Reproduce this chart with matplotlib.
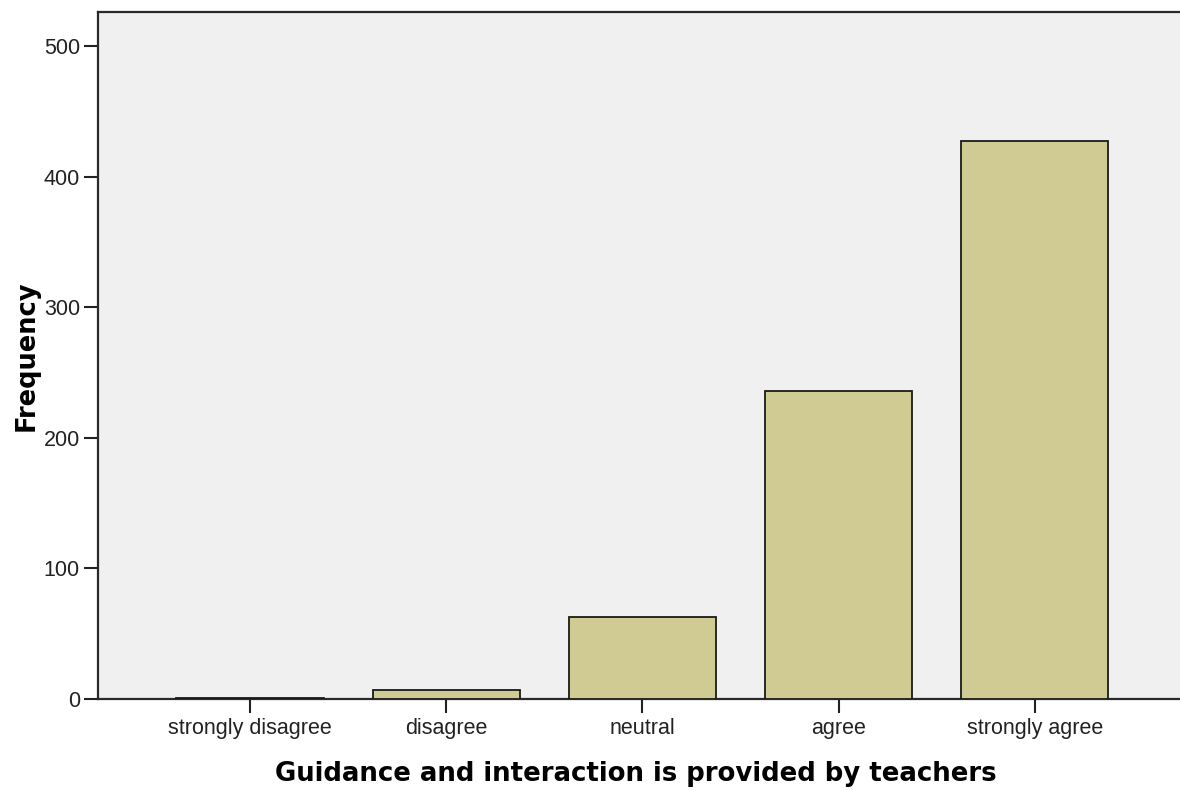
#!/usr/bin/env python3
"""SPSS-style frequency bar chart: guidance and interaction by teachers."""
import matplotlib
matplotlib.use("Agg")
import matplotlib.pyplot as plt
import numpy as np

CATEGORIES = ["strongly disagree", "disagree", "neutral", "agree", "strongly agree"]
FREQUENCY = [1, 7, 63, 236, 427]
Y_TICKS = [0, 100, 200, 300, 400, 500]

BAR_COLOR = "#d0cb92"
BG_COLOR = "#eff0ef"

plt.rcParams["font.family"] = ["Liberation Sans", "DejaVu Sans"]

fig = plt.figure(figsize=(11.8, 7.91), dpi=100)
ax = fig.add_axes([98 / 1180, 92 / 791, 1 - 98 / 1180 + 0.01, 687 / 791])
ax.set_facecolor(BG_COLOR)

x = np.arange(len(CATEGORIES))
ax.bar(x, FREQUENCY, width=0.75, color=BAR_COLOR, edgecolor="#1a1a1a", linewidth=1.3, zorder=3)

ax.set_xlim(-0.775, 4.80)
ax.set_ylim(0, 526)
ax.set_xticks(x)
ax.set_xticklabels(CATEGORIES, fontsize=15.5, color="#222222")
ax.set_yticks(Y_TICKS)
ax.set_yticklabels([str(v) for v in Y_TICKS], fontsize=15.5, color="#222222")
ax.tick_params(axis="both", direction="out", length=10, width=1.5, color="#222222", pad=3)
ax.tick_params(axis="x", pad=4)

for side in ("left", "bottom", "top"):
    ax.spines[side].set_linewidth(1.6)
    ax.spines[side].set_color("#2a2a2a")
ax.spines["right"].set_visible(False)

ax.set_ylabel("Frequency", fontsize=18.5, fontweight="bold", family="DejaVu Sans")
ax.yaxis.set_label_coords(-58 / 1082, 0.5)
ax.set_xlabel("Guidance and interaction is provided by teachers", fontsize=18.7,
              fontweight="bold", family="DejaVu Sans")
ax.xaxis.set_label_coords((630 - 98) / 1082, -0.090)

fig.savefig("out.png", dpi=100)
